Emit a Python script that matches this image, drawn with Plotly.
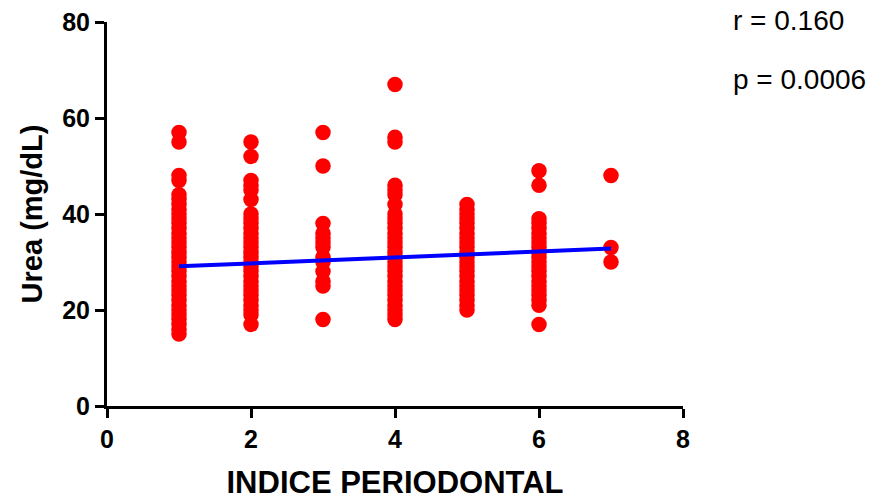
import plotly.graph_objects as go

# Data (x = periodontal index, y = urea mg/dL)
ys_1 = list(range(15, 45)) + [47, 48, 55, 57]
ys_2 = list(range(17, 18)) + list(range(19, 41)) + [43, 45, 46, 47, 52, 55]
ys_3 = [18, 25, 26, 28, 30, 31, 33, 34, 35, 36, 38, 50, 57]
ys_4 = list(range(18, 41)) + [42, 44, 45, 46, 55, 56, 67]
ys_5 = list(range(20, 43))
ys_6 = [17] + list(range(21, 40)) + [46, 49]
ys_7 = [30, 33, 48]

groups = {1: ys_1, 2: ys_2, 3: ys_3, 4: ys_4, 5: ys_5, 6: ys_6, 7: ys_7}
xs, ys = [], []
for k, v in groups.items():
    xs += [k] * len(v)
    ys += v

line_x = [1, 7]
line_y = [29.1, 32.8]

x_ticks = [0, 2, 4, 6, 8]
y_ticks = [0, 20, 40, 60, 80]

font_fam = "Arial, 'Liberation Sans', sans-serif"

fig = go.Figure()
fig.add_trace(go.Scatter(x=xs, y=ys, mode="markers",
                         marker=dict(color="#ff0000", size=15.5, line=dict(width=0)),
                         cliponaxis=False, showlegend=False))
fig.add_trace(go.Scatter(x=line_x, y=line_y, mode="lines",
                         line=dict(color="#0000ff", width=4), showlegend=False))

axis_common = dict(showline=True, linecolor="black", linewidth=3,
                   ticks="outside", ticklen=9, tickwidth=3, tickcolor="black",
                   showgrid=False, zeroline=False, automargin=False,
                   tickfont=dict(family=font_fam, size=25, color="black"))

fig.update_layout(
    width=875, height=500,
    margin=dict(l=107, r=192, t=22, b=94),
    plot_bgcolor="white", paper_bgcolor="white",
    xaxis=dict(range=[0, 8], tickvals=x_ticks,
               ticktext=["<b>%d</b>" % t for t in x_ticks], **axis_common,
               title=dict(text="<b>INDICE PERIODONTAL</b>", standoff=24,
                          font=dict(family=font_fam, size=31, color="black"))),
    yaxis=dict(range=[0, 80], tickvals=y_ticks,
               ticktext=["<b>%d</b>" % t for t in y_ticks], **axis_common,
               title=dict(text="<b>Urea (mg/dL)</b>", standoff=12,
                          font=dict(family=font_fam, size=29, color="black"))),
    annotations=[
        dict(text="r = 0.160", xref="paper", yref="paper", x=1.083, y=1.005,
             xanchor="left", yanchor="middle", showarrow=False,
             font=dict(family=font_fam, size=28, color="black")),
        dict(text="p = 0.0006", xref="paper", yref="paper", x=1.083, y=0.849,
             xanchor="left", yanchor="middle", showarrow=False,
             font=dict(family=font_fam, size=28, color="black")),
    ],
)

fig.write_html("out.html")
